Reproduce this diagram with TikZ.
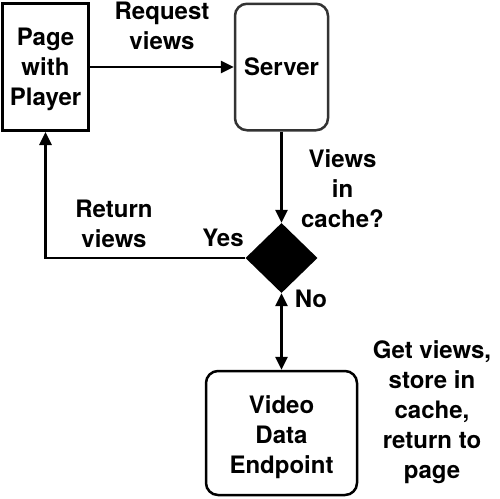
\documentclass[tikz,border=0pt]{standalone}
\usepackage{fontspec}
\setmainfont{TeX Gyre Heros}
\usetikzlibrary{shapes.geometric,arrows.meta}
\tikzset{
  lbl/.style={font=\fontsize{24}{30}\selectfont\bfseries, align=center, inner sep=0pt},
  boxsq/.style={draw=black, line width=3pt},
  boxrd/.style={draw=black, line width=2.5pt, rounded corners=12pt},
  tip/.tip={Triangle[length=13pt,width=12pt]},
  conn/.style={line width=2.6pt, -tip},
  dconn/.style={line width=2.6pt, tip-tip}
}
\begin{document}
\begin{tikzpicture}[x=1pt,y=-1pt]
\useasboundingbox (0,0) rectangle (500,498);
\node[boxsq, minimum width=86pt, minimum height=127pt] (page) at (45.5,67) {};
\node[lbl] (pagetxt) at ([yshift=-2.5pt]page.center) {Page\\with\\Player};
\node[boxrd, draw=black!80, minimum width=93pt, minimum height=126.5pt] (server) at (281.5,67) {};
\node[lbl] (servertxt) at (server.center) {Server};
\node[diamond, fill=black, inner sep=0pt, minimum width=72pt, minimum height=70pt] (dia) at (281.5,258) {};
\node[boxrd, minimum width=151pt, minimum height=124pt] (endp) at (281.5,433) {};
\node[lbl] (endptxt) at ([yshift=-4pt]endp.center) {Video\\Data\\Endpoint};
\draw[conn] (page) -- (server);
\draw[conn] (server) -- (dia);
\draw[conn] (dia.west) -| (page.south);
\draw[dconn] (dia.south) -- (endp.north);
\node[lbl] (req) at (162,26) {Request\\views};
\node[lbl] (ret) at (114,224) {Return\\views};
\node[lbl] (yes) at (223,238) {Yes};
\node[lbl] (vic) at (342.5,189) {Views\\in\\cache?};
\node[lbl] (no) at (311,299) {No};
\node[lbl] (get) at (432,412) {Get views,\\store in\\cache,\\return to\\page};
\end{tikzpicture}
\end{document}
